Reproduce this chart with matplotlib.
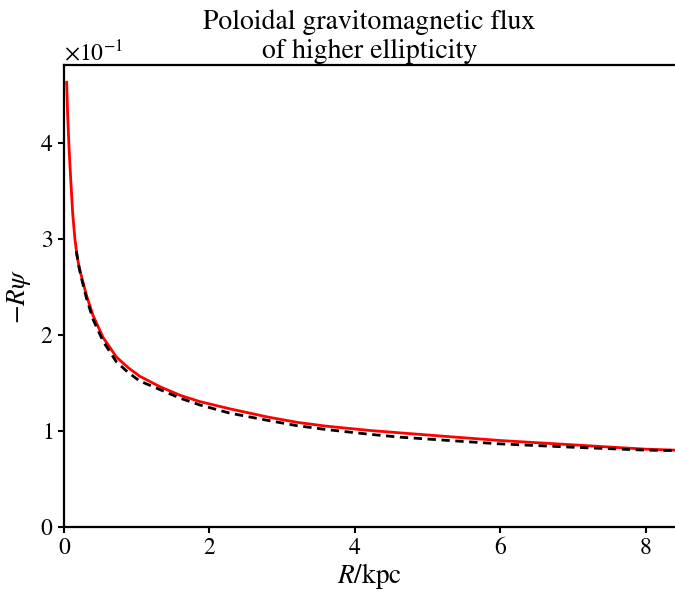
import matplotlib
matplotlib.use("Agg")
import matplotlib.pyplot as plt


# ---------- DATA ---------- #

r_red = [0.037, 0.05, 0.065, 0.078, 0.10, 0.12, 0.15, 0.18, 0.21, 0.25, 0.31, 0.40, 0.54,
         0.72, 0.88, 1.04, 1.32, 1.60, 1.87, 2.28, 2.80, 3.20, 3.60, 4.20, 4.62, 5.30,
         6.00, 7.00, 8.00, 8.40]
psi_red = [0.463, 0.430, 0.403, 0.382, 0.352, 0.326, 0.300, 0.282, 0.270, 0.258, 0.241,
           0.220, 0.197, 0.177, 0.166, 0.157, 0.146, 0.137, 0.1305, 0.123, 0.1145,
           0.109, 0.105, 0.1005, 0.098, 0.094, 0.090, 0.0855, 0.081, 0.080]

r_dash = [0.17, 0.21, 0.25, 0.31, 0.40, 0.54, 0.72, 0.88, 1.04, 1.32, 1.60, 1.87, 2.28,
          2.80, 3.20, 3.60, 4.20, 4.62, 5.30, 6.00, 7.00, 8.00, 8.40]
psi_dash = [0.287, 0.269, 0.256, 0.238, 0.216, 0.193, 0.172, 0.161, 0.152, 0.143, 0.134,
            0.127, 0.1185, 0.111, 0.1055, 0.1015, 0.0965, 0.0935, 0.090, 0.0865, 0.083,
            0.080, 0.0795]


# ---------- STYLE ---------- #

plt.rcParams["font.family"] = "serif"
plt.rcParams["font.serif"] = ["STIXGeneral", "Liberation Serif", "DejaVu Serif"]
plt.rcParams["mathtext.fontset"] = "stix"


# ---------- PLOT ---------- #

fig = plt.figure(figsize=(6.75, 5.96), dpi=100)
ax = fig.add_axes([0.0948, 0.1158, 0.9052, 0.7752])

ax.plot(r_red, psi_red, color="red", lw=2.0)
ax.plot(r_dash, psi_dash, color="black", lw=2.0, ls=(0, (3, 2)))

ax.set_xlim(0, 8.4)
ax.set_ylim(0, 0.481)
ax.set_xticks([0, 2, 4, 6, 8])
ax.set_yticks([0, 0.1, 0.2, 0.3, 0.4])
ax.ticklabel_format(style="sci", axis="y", scilimits=(0, 0), useMathText=True)
ax.yaxis.get_offset_text().set_fontsize(17)

ax.spines["right"].set_visible(False)
for s in ["left", "bottom", "top"]:
    ax.spines[s].set_linewidth(1.6)
ax.tick_params(labelsize=17, width=1.5, length=4.5)

ax.set_xlabel(r"$R/\mathrm{kpc}$", fontsize=19.5, labelpad=1)
ax.set_ylabel(r"$-R\psi$", fontsize=19.5, labelpad=5)
ax.set_title("Poloidal gravitomagnetic flux\nof higher ellipticity", fontsize=20,
             linespacing=1.2, pad=5)

fig.savefig("out.png", dpi=100)
